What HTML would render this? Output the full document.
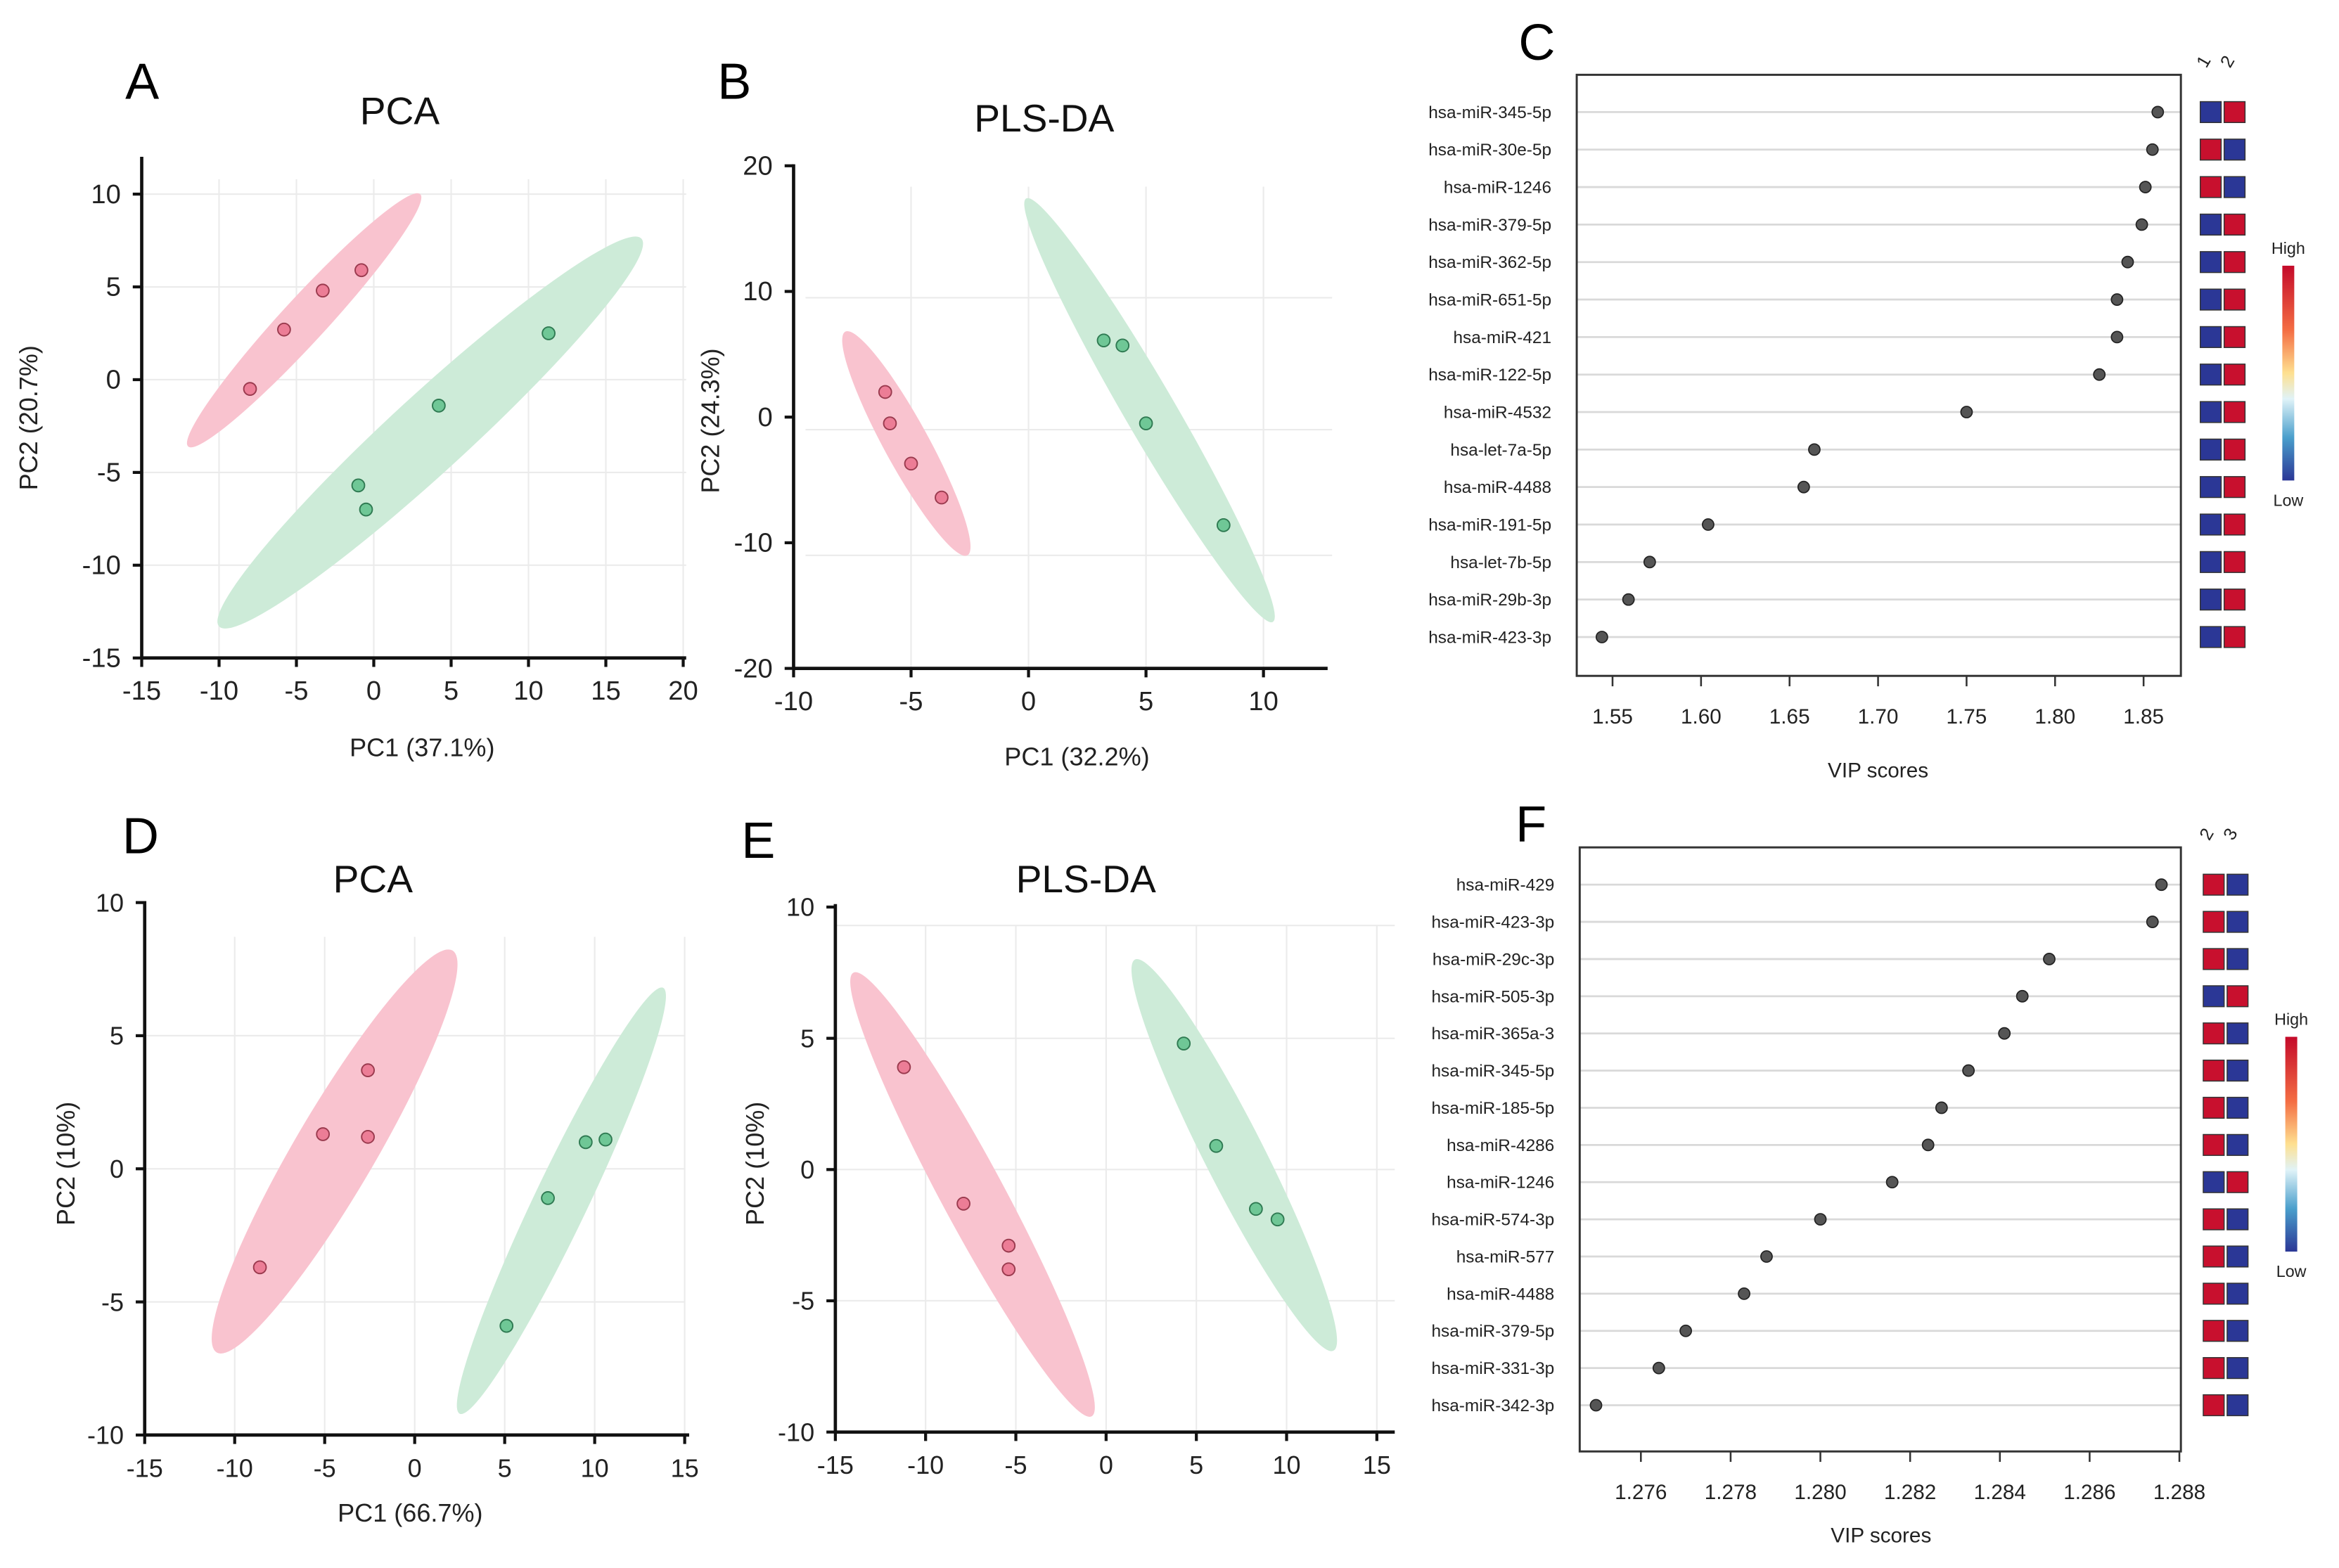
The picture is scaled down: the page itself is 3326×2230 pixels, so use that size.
<!DOCTYPE html>
<html><head><meta charset="utf-8"><style>
html,body{margin:0;padding:0;background:#fff}
svg{display:block}
text{font-family:"Liberation Sans",sans-serif}
</style></head><body>
<svg id="fig" xmlns="http://www.w3.org/2000/svg" width="3326" height="2230" viewBox="0 0 1568 1051">
<rect width="1568" height="1051" fill="#fff"/>
</svg>
<script>
// ---- Panel data ----
const aPinkX=[-8,-5.8,-3.3,-0.8], aPinkY=[-0.5,2.7,4.8,5.9];
const aGreenX=[11.3,4.2,-1,-0.5], aGreenY=[2.5,-1.4,-5.7,-7];
const bPinkX=[-6.1,-5.9,-5,-3.7], bPinkY=[2,-0.5,-3.7,-6.4];
const bGreenX=[3.2,4,5,8.3], bGreenY=[6.1,5.7,-0.5,-8.6];
const dPinkX=[-8.6,-5.1,-2.6,-2.6], dPinkY=[-3.7,1.3,3.7,1.2];
const dGreenX=[5.1,7.4,9.5,10.6], dGreenY=[-5.9,-1.1,1,1.1];
const ePinkX=[-11.2,-7.9,-5.4,-5.4], ePinkY=[3.9,-1.3,-2.9,-3.8];
const eGreenX=[4.3,6.1,8.3,9.5], eGreenY=[4.8,0.9,-1.5,-1.9];
const cLabels=["hsa-miR-345-5p","hsa-miR-30e-5p","hsa-miR-1246","hsa-miR-379-5p","hsa-miR-362-5p","hsa-miR-651-5p","hsa-miR-421","hsa-miR-122-5p","hsa-miR-4532","hsa-let-7a-5p","hsa-miR-4488","hsa-miR-191-5p","hsa-let-7b-5p","hsa-miR-29b-3p","hsa-miR-423-3p"];
const cValues=[1.858,1.855,1.851,1.849,1.841,1.835,1.835,1.825,1.750,1.664,1.658,1.604,1.571,1.559,1.544];
const cHigh=[2,1,1,2,2,2,2,2,2,2,2,2,2,2,2];
const cTicks=[1.55,1.60,1.65,1.70,1.75,1.80,1.85];
const fLabels=["hsa-miR-429","hsa-miR-423-3p","hsa-miR-29c-3p","hsa-miR-505-3p","hsa-miR-365a-3","hsa-miR-345-5p","hsa-miR-185-5p","hsa-miR-4286","hsa-miR-1246","hsa-miR-574-3p","hsa-miR-577","hsa-miR-4488","hsa-miR-379-5p","hsa-miR-331-3p","hsa-miR-342-3p"];
const fValues=[1.2876,1.2874,1.2851,1.2845,1.2841,1.2833,1.2827,1.2824,1.2816,1.2800,1.2788,1.2783,1.2770,1.2764,1.2750];
const fHigh=[1,1,1,2,1,1,1,1,2,1,1,1,1,1,1];
const fTicks=[1.276,1.278,1.280,1.282,1.284,1.286,1.288];

const NS="http://www.w3.org/2000/svg";
const svg=document.getElementById('fig');
function mk(tag,attrs,parent,txt){const e=document.createElementNS(NS,tag);for(const k in attrs)e.setAttribute(k,attrs[k]);if(txt!==undefined)e.textContent=txt;(parent||svg).appendChild(e);return e;}

function scatter(o){
  const g=mk('g',{});
  
  
  const sx=v=>o.x0+(v-o.xmin)/(o.xmax-o.xmin)*(o.x1-o.x0);
  const sy=v=>o.y0-(v-o.ymin)/(o.ymax-o.ymin)*(o.y0-o.y1);
  o.gx.forEach(v=>mk('line',{x1:sx(v),x2:sx(v),y1:o.gtop,y2:o.y0,stroke:'#ebebeb','stroke-width':1},g));
  o.gy.forEach(v=>mk('line',{x1:o.gleft,x2:o.gright,y1:sy(v),y2:sy(v),stroke:'#ebebeb','stroke-width':1},g));
  [[o.pe,'#f9c3cf'],[o.ge,'#cdebd8']].forEach(([e,c],i)=>{
    const ax=sx(e[0]),ay=sy(e[1]),bx=sx(e[2]),by=sy(e[3]);
    const cx=(ax+bx)/2,cy=(ay+by)/2,len=Math.hypot(bx-ax,by-ay)/2;
    const ang=Math.atan2(by-ay,bx-ax)*180/Math.PI;
    const el=mk('ellipse',{cx:cx,cy:cy,rx:len,ry:e[4],fill:c,transform:`rotate(${ang} ${cx} ${cy})`},g);
    
    
  });
  o.px.forEach((v,i)=>{const p=mk('circle',{cx:sx(v),cy:sy(o.py[i]),r:4.2,fill:'#ec7d96',stroke:'#9a3a4e','stroke-width':0.9},g);
    });
  o.qx.forEach((v,i)=>{const p=mk('circle',{cx:sx(v),cy:sy(o.qy[i]),r:4.2,fill:'#6fc796',stroke:'#2f7a52','stroke-width':0.9},g);
    });
  mk('line',{x1:o.x0,x2:o.x0,y1:o.axTop,y2:o.y0,stroke:'#111','stroke-width':2.2},g);
  mk('line',{x1:o.x0,x2:o.axRight,y1:o.y0,y2:o.y0,stroke:'#111','stroke-width':2.2},g);
  o.xt.forEach(v=>{mk('line',{x1:sx(v),x2:sx(v),y1:o.y0,y2:o.y0+6,stroke:'#111','stroke-width':2},g);
    const t=mk('text',{x:sx(v),y:o.y0+28,'text-anchor':'middle','font-size':o.fs,fill:'#222'},g,String(v));
    });
  o.yt.forEach(v=>{mk('line',{x1:o.x0-6,x2:o.x0,y1:sy(v),y2:sy(v),stroke:'#111','stroke-width':2},g);
    const t=mk('text',{x:o.x0-14,y:sy(v)+6,'text-anchor':'end','font-size':o.fs,fill:'#222'},g,String(v));
    });
  let t=mk('text',{x:o.xtx,y:o.xty,'text-anchor':'middle','font-size':17,fill:'#222'},g,o.xtitle);
  
  t=mk('text',{x:0,y:0,'text-anchor':'middle','font-size':17,fill:'#222',transform:`translate(${o.ytx},${o.yty}) rotate(-90)`},g,o.ytitle);
  
  t=mk('text',{x:o.tx,y:o.ty,'text-anchor':'middle','font-size':26,fill:'#111'},g,o.title);
  
  t=mk('text',{x:o.lx,y:o.ly,'font-size':34,fill:'#000'},g,o.letter);
  
}

scatter({name:'panel-a-pca',x0:95,x1:458,xmin:-15,xmax:20,y0:441,y1:130,ymin:-15,ymax:10,
 gx:[-10,-5,0,5,10,15,20],gy:[-10,-5,0,5,10],gtop:120,gleft:95,gright:460,axTop:105,axRight:460,
 px:aPinkX,py:aPinkY,qx:aGreenX,qy:aGreenY,pe:[-12,-3.6,3,10,15],ge:[-10,-13.3,17.3,7.6,26],
 xt:[-15,-10,-5,0,5,10,15,20],yt:[-15,-10,-5,0,5,10],fs:18,
 xtitle:'PC1 (37.1%)',xtx:283,xty:507,ytitle:'PC2 (20.7%)',ytx:25,yty:280,title:'PCA',tx:268,ty:83,letter:'A',lx:84,ly:66});
scatter({name:'panel-b-plsda',x0:532,x1:847,xmin:-10,xmax:10,y0:448,y1:111,ymin:-20,ymax:20,
 gx:[-5,0,5,10],gy:[-11,-1,9.5],gtop:125,gleft:540,gright:893,axTop:110,axRight:890,
 px:bPinkX,py:bPinkY,qx:bGreenX,qy:bGreenY,pe:[-7.8,6.8,-2.6,-11,15],ge:[-0.1,17.4,10.4,-16.3,17],
 xt:[-10,-5,0,5,10],yt:[-20,-10,0,10,20],fs:18,
 xtitle:'PC1 (32.2%)',xtx:722,xty:513,ytitle:'PC2 (24.3%)',ytx:482,yty:282,title:'PLS-DA',tx:700,ty:88,letter:'B',lx:481,ly:66});
scatter({name:'panel-d-pca',x0:97,x1:459,xmin:-15,xmax:15,y0:962,y1:605,ymin:-10,ymax:10,
 gx:[-10,-5,0,5,10,15],gy:[-10,-5,0,5],gtop:628,gleft:97,gright:459,axTop:604,axRight:462,
 px:dPinkX,py:dPinkY,qx:dGreenX,qy:dGreenY,pe:[-11,-6.9,2.1,8.2,27],ge:[2.5,-9.2,13.8,6.8,18],
 xt:[-15,-10,-5,0,5,10,15],yt:[-10,-5,0,5,10],fs:17,
 xtitle:'PC1 (66.7%)',xtx:275,xty:1020,ytitle:'PC2 (10%)',ytx:50,yty:780,title:'PCA',tx:250,ty:598,letter:'D',lx:82,ly:572});
scatter({name:'panel-e-plsda',x0:560,x1:923,xmin:-15,xmax:15,y0:960,y1:608,ymin:-10,ymax:10,
 gx:[-10,-5,0,5,10,15],gy:[-5,0,5,9.3],gtop:620,gleft:560,gright:935,axTop:606,axRight:935,
 px:ePinkX,py:ePinkY,qx:eGreenX,qy:eGreenY,pe:[-14,7.5,-0.8,-9.4,21],ge:[1.6,8,12.6,-6.9,20],
 xt:[-15,-10,-5,0,5,10,15],yt:[-10,-5,0,5,10],fs:17,
 xtitle:'',xtx:740,xty:1020,ytitle:'PC2 (10%)',ytx:512,yty:780,title:'PLS-DA',tx:728,ty:598,letter:'E',lx:497,ly:575});

function vip(o){
  const g=mk('g',{});
  
  
  const sx=v=>o.tx0+(v-o.t0)/(o.t1-o.t0)*(o.tx1-o.tx0);
  const rowY=i=>o.r0+i*o.dr;
  o.labels.forEach((l,i)=>{
    const y=rowY(i);
    mk('line',{x1:o.bx0,x2:o.bx1,y1:y,y2:y,stroke:'#d9d9d9','stroke-width':1.3},g);
    const t=mk('text',{x:o.bx0-17,y:y+4,'text-anchor':'end','font-size':11.5,fill:'#222'},g,l);
    
    const c=mk('circle',{cx:sx(o.values[i]),cy:y,r:3.8,fill:'#555',stroke:'#222','stroke-width':0.8},g);
    
    const hi=o.high[i];
    [0,1].forEach(k=>{
      const red=(hi===k+1);
      const r=mk('rect',{x:o.hx+k*16,y:y-7,width:14,height:14,fill:red?'#c8102e':'#2b3796',stroke:'#333','stroke-width':0.7},g);
      
    });
  });
  mk('rect',{x:o.bx0,y:o.by0,width:o.bx1-o.bx0,height:o.by1-o.by0,fill:'none',stroke:'#333','stroke-width':1.4},g);
  o.ticks.forEach(v=>{
    mk('line',{x1:sx(v),x2:sx(v),y1:o.by1,y2:o.by1+7,stroke:'#333','stroke-width':1.2},g);
    const t=mk('text',{x:sx(v),y:o.by1+32,'text-anchor':'middle','font-size':14,fill:'#222'},g,v.toFixed(o.dec));
    
  });
  let t=mk('text',{x:o.xtitleX,y:o.by1+o.titleOff,'text-anchor':'middle','font-size':14,fill:'#222'},g,'VIP scores');
  
  o.cols.forEach((c,k)=>{const tt=mk('text',{x:0,y:0,'font-size':12,fill:'#222',transform:`translate(${o.hx+4+k*16},${o.by0-4}) rotate(-60)`},g,c);
    });
  const cb=mk('rect',{x:o.cbx,y:o.cby,width:8,height:144,fill:`url(#grad)`},g);
  
  
  t=mk('text',{x:o.cbx+4,y:o.cby-8,'text-anchor':'middle','font-size':11,fill:'#222'},g,'High');
  
  t=mk('text',{x:o.cbx+4,y:o.cby+161,'text-anchor':'middle','font-size':11,fill:'#222'},g,'Low');
  
  t=mk('text',{x:o.lx,y:o.ly,'font-size':34,fill:'#000'},g,o.letter);
  
}
const defs=mk('defs',{});
const gr=mk('linearGradient',{id:'grad',x1:0,y1:0,x2:0,y2:1},defs);
[['0','#c40a2a'],['0.3','#f46d43'],['0.5','#fee090'],['0.62','#e0f3f8'],['0.8','#4a9fcc'],['1','#2b3796']].forEach(s=>mk('stop',{offset:s[0],'stop-color':s[1]},gr));

vip({name:'panel-c-vip',labels:cLabels,values:cValues,high:cHigh,ticks:cTicks,dec:2,
 t0:1.55,t1:1.85,tx0:1081,tx1:1437,bx0:1057,bx1:1462,by0:50,by1:453,r0:75,dr:25.14,hx:1475,titleOff:68,
 cols:['1','2'],cbx:1530,cby:178,xtitleX:1259,letter:'C',lx:1018,ly:40});
vip({name:'panel-f-vip',labels:fLabels,values:fValues,high:fHigh,ticks:fTicks,dec:3,
 t0:1.276,t1:1.288,tx0:1100,tx1:1461,bx0:1059,bx1:1462,by0:568,by1:973,r0:593,dr:24.93,hx:1477,titleOff:61,
 cols:['2','3'],cbx:1532,cby:695,xtitleX:1261,letter:'F',lx:1016,ly:564});
</script>
</body></html>
